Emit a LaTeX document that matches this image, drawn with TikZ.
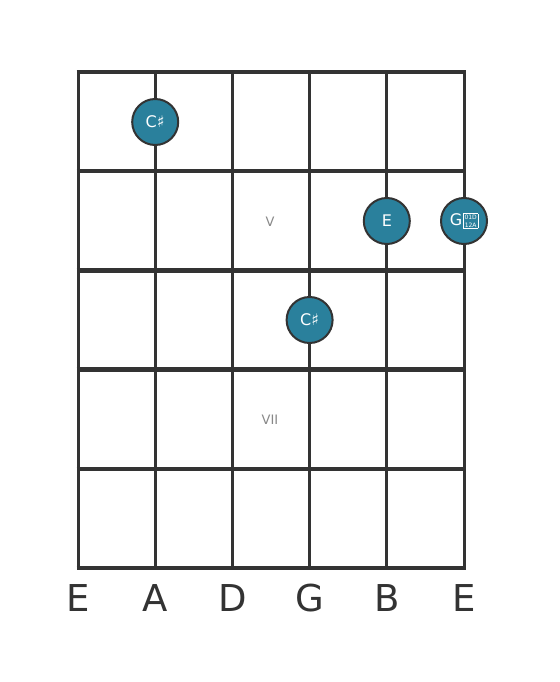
\documentclass[tikz,border=0pt]{standalone}
\usepackage{fontspec}
\setmainfont{DejaVu Sans}
\definecolor{linec}{HTML}{333333}
\definecolor{notec}{HTML}{2A809C}
\definecolor{romanc}{HTML}{888888}
\newcommand{\tofubox}{{\setlength{\fboxsep}{0.8pt}\setlength{\fboxrule}{0.5pt}\raisebox{-2pt}{\fbox{\fontsize{6}{6}\selectfont\shortstack{01D\\[0.8pt]12A}}}}}
\begin{document}
\begin{tikzpicture}[x=1pt,y=-1pt,
  fret/.style={draw=linec,line width=4.5pt},
  stringl/.style={draw=linec,line width=3pt},
  note/.style={circle,fill=notec,draw=linec,line width=2pt,minimum size=46pt,inner sep=0pt,text=white,font=\fontsize{16}{16}\selectfont},
  roman/.style={text=romanc,font=\fontsize{13}{13}\selectfont},
  strname/.style={text=linec,font=\fontsize{37}{37}\selectfont}]
\fill[white] (0,0) rectangle (559,682);
\useasboundingbox (0,0) rectangle (559,682);
% strings
\foreach \i/\x in {0/78,1/155.2,2/232.4,3/309.6,4/386.8,5/464}{
  \coordinate (st\i) at (\x,72);
  \coordinate (sb\i) at (\x,568);
  \draw[stringl] (st\i) -- (sb\i);
}
% frets
\foreach \j/\y in {0/72,1/171.2,2/270.4,3/369.6,4/468.8,5/568}{
  \coordinate (fl\j) at (76.5,\y);
  \coordinate (fr\j) at (465.5,\y);
  \draw[fret] (fl\j) -- (fr\j);
}
\node[roman] (v) at (270,222) {V};
\node[roman] (vii) at (270,420) {VII};
\node[note] (n1) at (155.2,122) {C♯};
\node[note] (n2) at (386.8,221) {E};
\node[note] (n3) at (309.6,320) {C♯};
\node[note] (n4) at (464,221) {G\hspace{1pt}\tofubox};
\foreach \i/\x/\t in {0/78/E,1/155.2/A,2/232.4/D,3/309.6/G,4/386.8/B,5/464/E}{
  \node[strname] (lab\i) at (\x,598) {\t};
}
\end{tikzpicture}
\end{document}
